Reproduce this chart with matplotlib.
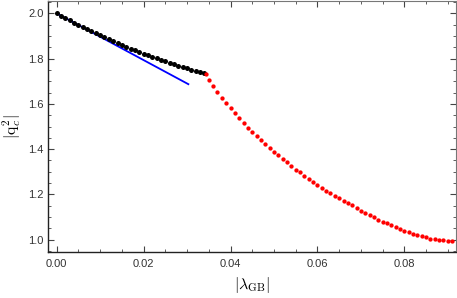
import matplotlib
matplotlib.use("Agg")
import matplotlib.pyplot as plt
from matplotlib.ticker import MultipleLocator

# black branch: |lambda_GB| = 0 ... 0.034
black_x = [i / 1000 for i in range(35)]
black_y = [2.000, 1.9896, 1.9793, 1.9692, 1.9593, 1.9495, 1.9399, 1.9304,
           1.9211, 1.9120, 1.9030, 1.8942, 1.8855, 1.8770, 1.8687, 1.8605,
           1.8525, 1.8446, 1.8369, 1.8294, 1.8220, 1.8148, 1.8077, 1.8008,
           1.7941, 1.7875, 1.7811, 1.7748, 1.7687, 1.7628, 1.7570, 1.7514,
           1.7459, 1.7406, 1.7355]

# red branch: 0.0343, then 0.035 ... 0.091
red_x = [0.0343] + [i / 1000 for i in range(35, 92)]
red_y = [1.733,
         1.706, 1.679, 1.653, 1.628, 1.604, 1.581, 1.558, 1.536, 1.516, 1.495,
         1.476, 1.457, 1.439, 1.422, 1.405, 1.388, 1.372, 1.355, 1.341, 1.325,
         1.310, 1.297, 1.282, 1.268, 1.255, 1.242, 1.230, 1.217, 1.205, 1.193,
         1.182, 1.171, 1.161, 1.151, 1.139, 1.127, 1.117, 1.108, 1.098, 1.089,
         1.080, 1.072, 1.063, 1.055, 1.046, 1.039, 1.032, 1.026, 1.020, 1.014,
         1.010, 1.005, 1.002, 0.999, 0.998, 0.996, 0.995]

# linear approximation
blue_x = [0.0, 0.0303]
blue_y = [2.0, 1.687]

FRAME = "#444444"

plt.rcParams["mathtext.fontset"] = "cm"
plt.rcParams["font.family"] = ["Liberation Sans", "DejaVu Sans"]

fig = plt.figure(figsize=(4.57, 2.98), dpi=100)
ax = fig.add_axes([0.105, 0.154, 0.893, 0.843])

ax.plot(blue_x, blue_y, color="#0000ff", lw=1.3, zorder=2)
ax.plot(black_x, black_y, "o", color="black", ms=3.6, mew=0, zorder=3)
ax.plot(red_x, red_y, "o", color="#ff0000", ms=3.1, mew=0, zorder=3)

ax.set_xlim(-0.002, 0.0919)
ax.set_ylim(0.945, 2.055)

ax.xaxis.set_major_locator(MultipleLocator(0.02))
ax.xaxis.set_minor_locator(MultipleLocator(0.005))
ax.yaxis.set_major_locator(MultipleLocator(0.2))
ax.yaxis.set_minor_locator(MultipleLocator(0.05))
ax.xaxis.set_major_formatter(matplotlib.ticker.FormatStrFormatter("%.2f"))
ax.yaxis.set_major_formatter(matplotlib.ticker.FormatStrFormatter("%.1f"))

ax.tick_params(which="both", direction="in", top=True, right=True,
               color=FRAME, labelcolor="#333333", labelsize=8)
ax.tick_params(which="major", length=4, width=0.8)
ax.tick_params(which="minor", length=2.2, width=0.6)
ax.tick_params(axis="x", pad=5)
ax.tick_params(axis="y", pad=3)

for side in ["left", "bottom"]:
    ax.spines[side].set_color("#222222")
    ax.spines[side].set_linewidth(1.0)
for side in ["top", "right"]:
    ax.spines[side].set_color("#777777")
    ax.spines[side].set_linewidth(0.8)

ax.set_xlabel(r"$|\lambda_{\mathrm{GB}}|$", fontsize=11.5, labelpad=4)
ax.set_ylabel(r"$|\mathrm{q}_c^2|$", fontsize=11.5, labelpad=4)

fig.savefig("out.png", dpi=100)
